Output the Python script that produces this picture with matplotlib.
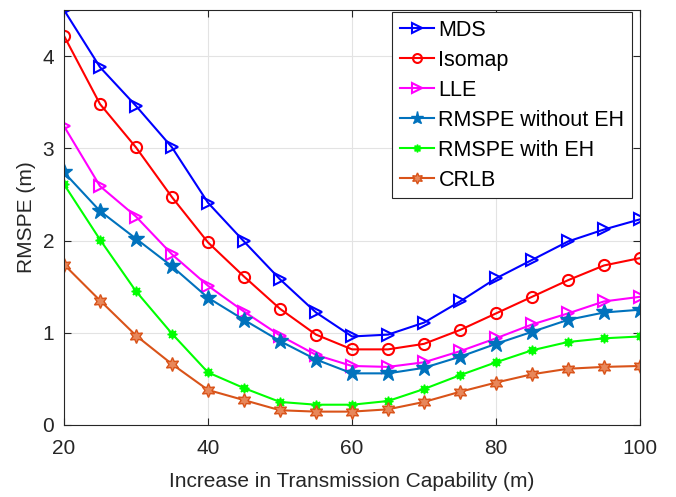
import matplotlib
matplotlib.use("Agg")
import matplotlib.pyplot as plt

plt.rcParams['font.family'] = ['Liberation Sans', 'DejaVu Sans']

x = [20, 25, 30, 35, 40, 45, 50, 55, 60, 65, 70, 75, 80, 85, 90, 95, 100]

mds = [4.50, 3.88, 3.46, 3.01, 2.41, 1.99, 1.58, 1.22, 0.96, 0.98, 1.11, 1.34, 1.59, 1.79, 1.99, 2.12, 2.23]
isomap = [4.22, 3.48, 3.01, 2.47, 1.98, 1.61, 1.26, 0.98, 0.82, 0.82, 0.88, 1.03, 1.21, 1.39, 1.57, 1.73, 1.81]
lle = [3.24, 2.59, 2.26, 1.85, 1.51, 1.23, 0.97, 0.76, 0.64, 0.63, 0.68, 0.80, 0.94, 1.09, 1.21, 1.34, 1.39]
no_eh = [2.74, 2.32, 2.02, 1.72, 1.38, 1.14, 0.91, 0.71, 0.56, 0.56, 0.62, 0.74, 0.88, 1.01, 1.14, 1.22, 1.25]
with_eh = [2.61, 2.01, 1.45, 0.99, 0.57, 0.40, 0.25, 0.22, 0.22, 0.26, 0.39, 0.54, 0.68, 0.81, 0.90, 0.94, 0.96]
crlb = [1.74, 1.35, 0.97, 0.66, 0.38, 0.27, 0.16, 0.145, 0.145, 0.17, 0.25, 0.36, 0.46, 0.55, 0.61, 0.63, 0.64]

fig = plt.figure(figsize=(6.76, 4.97), dpi=100)
ax = fig.add_axes([64 / 676, 72 / 497, 576 / 676, 415 / 497])

lw = 1.5
ax.plot(x, mds, color='#0000ff', lw=lw, marker='>', ms=9, mfc='none', mew=1.5, label='MDS')
ax.plot(x, isomap, color='#ff0000', lw=lw, marker='o', ms=8, mfc='none', mew=1.5, label='Isomap')
ax.plot(x, lle, color='#ff00ff', lw=lw, marker='>', ms=9, mfc='none', mew=1.5, label='LLE')
ax.plot(x, no_eh, color='#0072bd', lw=lw, marker='*', ms=12, label='RMSPE without EH')
ax.plot(x, with_eh, color='#00ff00', lw=lw, marker=(8, 1, 0), ms=7, label='RMSPE with EH')
ax.plot(x, crlb, color='#d95319', lw=lw, marker=(6, 1, 0), ms=10, mfc='#e8875a', label='CRLB')

ax.set_xlim(20, 100)
ax.set_ylim(0, 4.5)
ax.set_xticks([20, 40, 60, 80, 100])
ax.set_yticks([0, 1, 2, 3, 4])
ax.grid(True, color='#e3e3e3', lw=0.8)
ax.set_axisbelow(True)
ax.tick_params(direction='in', labelsize=15, colors='#262626', top=True, right=True, length=5)
ax.tick_params(axis='x', pad=10)
ax.tick_params(axis='y', pad=7)
for s in ax.spines.values():
    s.set_color('#262626')
ax.set_xlabel('Increase in Transmission Capability (m)', fontsize=15, color='#262626', labelpad=10)
ax.set_ylabel('RMSPE (m)', fontsize=15, color='#262626', labelpad=5)

leg = ax.legend(loc='upper right', bbox_to_anchor=(0.986, 0.995), fontsize=15.5, fancybox=False,
                edgecolor='#262626', framealpha=1, borderaxespad=0.0, handlelength=1.6,
                handletextpad=0.2, labelspacing=0.42, borderpad=0.35, markerscale=0.8)
leg.get_frame().set_linewidth(0.8)

plt.savefig('out.png', dpi=100)
